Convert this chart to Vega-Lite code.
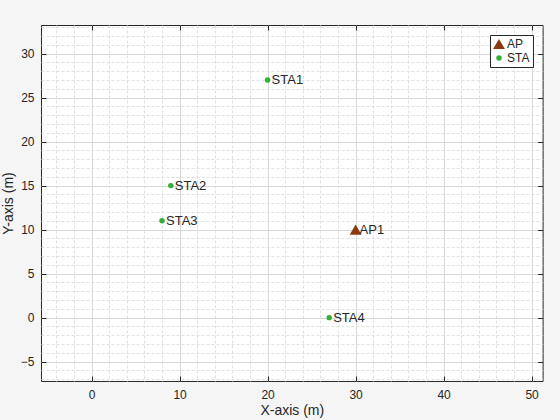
{
  "$schema": "https://vega.github.io/schema/vega-lite/v6.json",
  "width": 501.6,
  "height": 356,
  "autosize": {"type": "none"},
  "padding": {"left": 41, "top": 25, "right": 17, "bottom": 39},
  "background": "#f5f5f5",
  "view": {"fill": "white", "stroke": "#262626", "strokeWidth": 1},
  "config": {
    "font": "Liberation Sans",
    "axis": {"labelColor": "#262626", "titleColor": "#262626", "labelFontSize": 12, "titleFontSize": 14, "titleFontWeight": "normal", "domain": false, "tickColor": "#262626"}
  },
  "data": {"values": [
    {"name": "AP1", "type": "AP", "x": 30, "y": 10},
    {"name": "STA1", "type": "STA", "x": 20, "y": 27},
    {"name": "STA2", "type": "STA", "x": 9, "y": 15},
    {"name": "STA3", "type": "STA", "x": 8, "y": 11},
    {"name": "STA4", "type": "STA", "x": 27, "y": 0}
  ]},
  "layer": [
    {
      "mark": {"type": "point", "filled": true, "opacity": 1},
      "encoding": {
        "x": {"field": "x", "type": "quantitative", "scale": {"domain": [-5.75, 51.25], "nice": false, "zero": false},
          "axis": {"title": "X-axis (m)", "values": [-4,-2,0,2,4,6,8,10,12,14,16,18,20,22,24,26,28,30,32,34,36,38,40,42,44,46,48,50],
            "labelExpr": "datum.value % 10 === 0 ? datum.label : ''",
            "tickSize": -5, "tickOpacity": {"condition": {"test": "datum.value % 10 === 0", "value": 1}, "value": 0},
            "labelPadding": 14, "titlePadding": 3, "labelFlush": false, "labelOverlap": false,
            "grid": true,
            "gridColor": {"condition": {"test": "datum.value % 10 === 0", "value": "#d9d9d9"}, "value": "#e0e0e0"},
            "gridDash": {"condition": {"test": "datum.value % 10 === 0", "value": []}, "value": [3, 2]}}},
        "y": {"field": "y", "type": "quantitative", "scale": {"domain": [-7.2, 33.25], "nice": false, "zero": false},
          "axis": {"title": "Y-axis (m)", "values": [-7,-6,-5,-4,-3,-2,-1,0,1,2,3,4,5,6,7,8,9,10,11,12,13,14,15,16,17,18,19,20,21,22,23,24,25,26,27,28,29,30,31,32,33],
            "labelExpr": "datum.value % 5 === 0 ? datum.label : ''",
            "tickSize": -5, "tickOpacity": {"condition": {"test": "datum.value % 5 === 0", "value": 1}, "value": 0},
            "labelPadding": 12, "titlePadding": 5, "labelFlush": false, "labelOverlap": false,
            "grid": true,
            "gridColor": {"condition": {"test": "datum.value % 5 === 0", "value": "#d9d9d9"}, "value": "#e0e0e0"},
            "gridDash": {"condition": {"test": "datum.value % 5 === 0", "value": []}, "value": [3, 2]}}},
        "shape": {"field": "type", "type": "nominal", "scale": {"domain": ["AP", "STA"], "range": ["triangle-up", "circle"]}, "legend": {"title": null}},
        "color": {"field": "type", "type": "nominal", "scale": {"domain": ["AP", "STA"], "range": ["#8a3a0e", "#33b033"]}, "legend": {"title": null}},
        "size": {"field": "type", "type": "nominal", "scale": {"domain": ["AP", "STA"], "range": [140, 30]},
          "legend": {"title": null, "orient": "top-right", "offset": 10, "fillColor": "white", "strokeColor": "#262626", "padding": 3, "labelFontSize": 12, "labelColor": "#262626", "labelOffset": 2, "rowPadding": 2, "symbolStrokeWidth": 0}}
      }
    },
    {
      "mark": {"type": "text", "align": "left", "baseline": "middle", "dx": 4, "fontSize": 13, "color": "#262626"},
      "encoding": {
        "x": {"field": "x", "type": "quantitative", "axis": {"orient": "top", "title": null, "labels": false, "grid": false, "values": [0,10,20,30,40,50], "tickSize": -5}},
        "y": {"field": "y", "type": "quantitative", "axis": {"orient": "right", "title": null, "labels": false, "grid": false, "values": [-5,0,5,10,15,20,25,30], "tickSize": -5}},
        "text": {"field": "name", "type": "nominal"}
      }
    }
  ],
  "resolve": {"axis": {"x": "independent", "y": "independent"}}
}
